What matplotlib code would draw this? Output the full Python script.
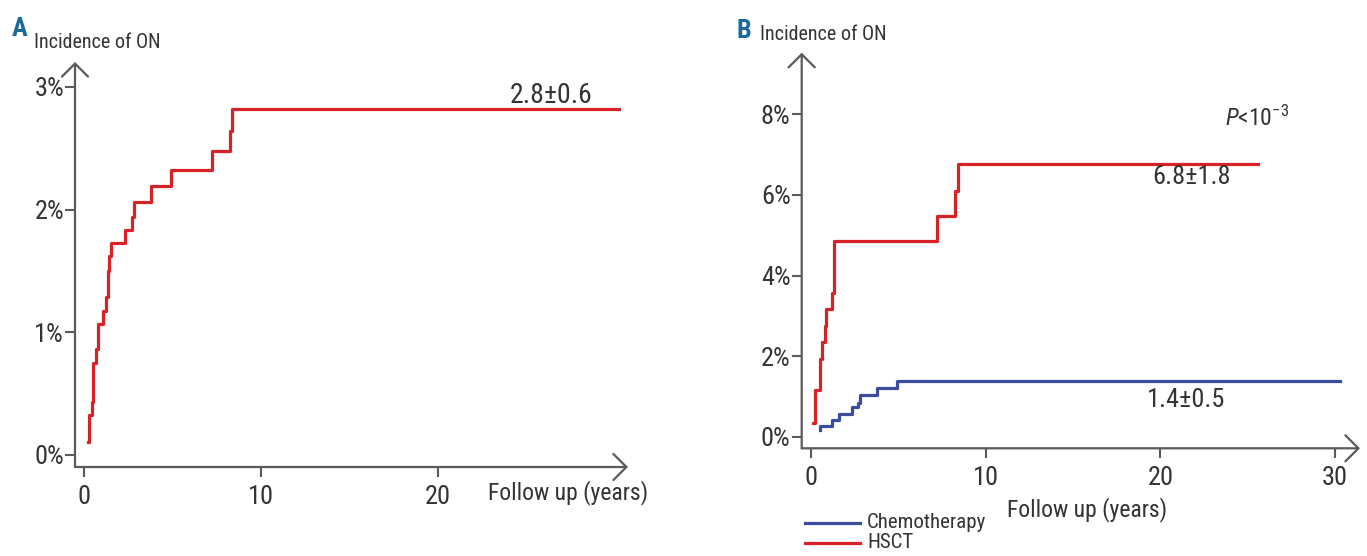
import matplotlib
matplotlib.use("Agg")
import matplotlib.pyplot as plt
from matplotlib import font_manager
from matplotlib.lines import Line2D

# pick a narrow sans if there is one
names = set(f.name for f in font_manager.fontManager.ttflist)
narrow = "DejaVu Sans"
for cand in ["Liberation Sans Narrow", "DejaVu Sans Condensed", "Roboto Condensed", "Open Sans Condensed"]:
    if cand in names:
        narrow = cand
        break
print("font:", narrow)
plt.rcParams['font.family'] = [narrow, 'DejaVu Sans']
plt.rcParams['mathtext.fontset'] = 'custom'
plt.rcParams['mathtext.rm'] = narrow
plt.rcParams['mathtext.it'] = narrow + ':italic'

# panel A: all patients
a_time = [0.2, 0.28, 0.47, 0.53, 0.66, 0.79, 1.09, 1.22, 1.34, 1.41, 1.51, 2.3, 2.69, 2.82, 3.77, 4.9, 7.21, 8.23, 8.38, 30.2]
a_inc = [0.11, 0.33, 0.43, 0.75, 0.86, 1.07, 1.17, 1.29, 1.50, 1.62, 1.73, 1.83, 1.94, 2.06, 2.19, 2.32, 2.48, 2.64, 2.82, 2.82]

# panel B: by treatment
hsct_time = [0.13, 0.27, 0.56, 0.67, 0.8, 0.86, 1.19, 1.34, 7.22, 8.28, 8.41, 25.6]
hsct_inc = [0.33, 1.16, 1.94, 2.36, 2.75, 3.16, 3.57, 4.86, 5.48, 6.1, 6.77, 6.77]
chemo_time = [0.52, 0.56, 1.19, 1.61, 2.34, 2.72, 2.82, 3.78, 4.96, 30.3]
chemo_inc = [0.17, 0.27, 0.41, 0.56, 0.73, 0.84, 1.03, 1.22, 1.39, 1.39]

a_yticks = [0, 1, 2, 3]
a_xticks = [0, 10, 20]
b_yticks = [0, 2, 4, 6, 8]
b_xticks = [0, 10, 20, 30]

RED = '#d92128'
BLUE = '#3b4c9e'
GREY = '#5a5a5a'
TXT = '#333333'
W, H = 1367, 556

fig = plt.figure(figsize=(13.67, 5.56), dpi=100)


def px(x, y):
    return x / W, 1 - y / H


def make_axes(left, right, top, bottom, x0px, xscale, y0px, yscale):
    ax = fig.add_axes([left / W, 1 - bottom / H, (right - left) / W, (bottom - top) / H])
    ax.set_xlim((left - x0px) / xscale, (right - x0px) / xscale)
    ax.set_ylim((y0px - bottom) / yscale, (y0px - top) / yscale)
    for s in ax.spines.values():
        s.set_visible(False)
    ap = dict(arrowstyle='->,head_length=0.47,head_width=0.47', color=GREY, lw=1.6,
              shrinkA=0, shrinkB=0, mutation_scale=20)
    ax.annotate('', xy=(1, 0), xytext=(0, 0), xycoords='axes fraction', arrowprops=ap, annotation_clip=False)
    ax.annotate('', xy=(0, 1), xytext=(0, 0), xycoords='axes fraction', arrowprops=ap, annotation_clip=False)
    ax.tick_params(direction='out', length=7, width=1.5, color=GREY, labelcolor=TXT,
                   labelsize=19, pad=1)
    ax.tick_params(axis='x', pad=6)
    ax.patch.set_alpha(0)
    return ax


# ---- A ----
axA = make_axes(75, 628, 62, 467, 84, 17.7, 455, 122.7)
axA.step(a_time, a_inc, where='post', color=RED, lw=2.3)
axA.set_yticks(a_yticks)
axA.set_yticklabels([f'{v}%' for v in a_yticks])
axA.set_xticks(a_xticks)
axA.text(26.4, 2.93, '2.8±0.6', ha='center', va='center', fontsize=20, color=TXT)

# ---- B ----
axB = make_axes(801.7, 1360, 52.7, 448.3, 810.7, 17.48, 436.7, 40.3)
axB.step(chemo_time, chemo_inc, where='post', color=BLUE, lw=2.3)
axB.step(hsct_time, hsct_inc, where='post', color=RED, lw=2.3)
axB.set_yticks(b_yticks)
axB.set_yticklabels([f'{v}%' for v in b_yticks])
axB.set_xticks(b_xticks)
axB.text(21.8, 6.44, '6.8±1.8', ha='center', va='center', fontsize=19, color=TXT)
axB.text(21.5, 0.91, '1.4±0.5', ha='center', va='center', fontsize=19, color=TXT)
axB.text(23.7, 7.9, r'$P$<10$^{-3}$', ha='left', va='center', fontsize=17, color=TXT)

# panel letters, axis titles
fig.text(*px(12, 29), 'A', fontsize=19, fontweight='bold', color='#1c6a9c', va='center')
fig.text(*px(34, 42), 'Incidence of ON', fontsize=14.5, color=TXT, va='center')
fig.text(*px(736, 31), 'B', fontsize=19, fontweight='bold', color='#1c6a9c', va='center')
fig.text(*px(760, 35), 'Incidence of ON', fontsize=14.5, color=TXT, va='center')
fig.text(*px(488, 493), 'Follow up (years)', fontsize=17, color=TXT, va='center')
fig.text(*px(1007, 510), 'Follow up (years)', fontsize=17, color=TXT, va='center')

# legend
for yy, col, lab in [(523, BLUE, 'Chemotherapy'), (543, RED, 'HSCT')]:
    x1, y1 = px(805, yy)
    x2, _ = px(860, yy)
    fig.add_artist(Line2D([x1, x2], [y1, y1], color=col, lw=2.3, transform=fig.transFigure))
    fig.text(*px(867, yy), lab, fontsize=15, color=TXT, va='center')

fig.savefig('out.png', dpi=100, facecolor='white')
